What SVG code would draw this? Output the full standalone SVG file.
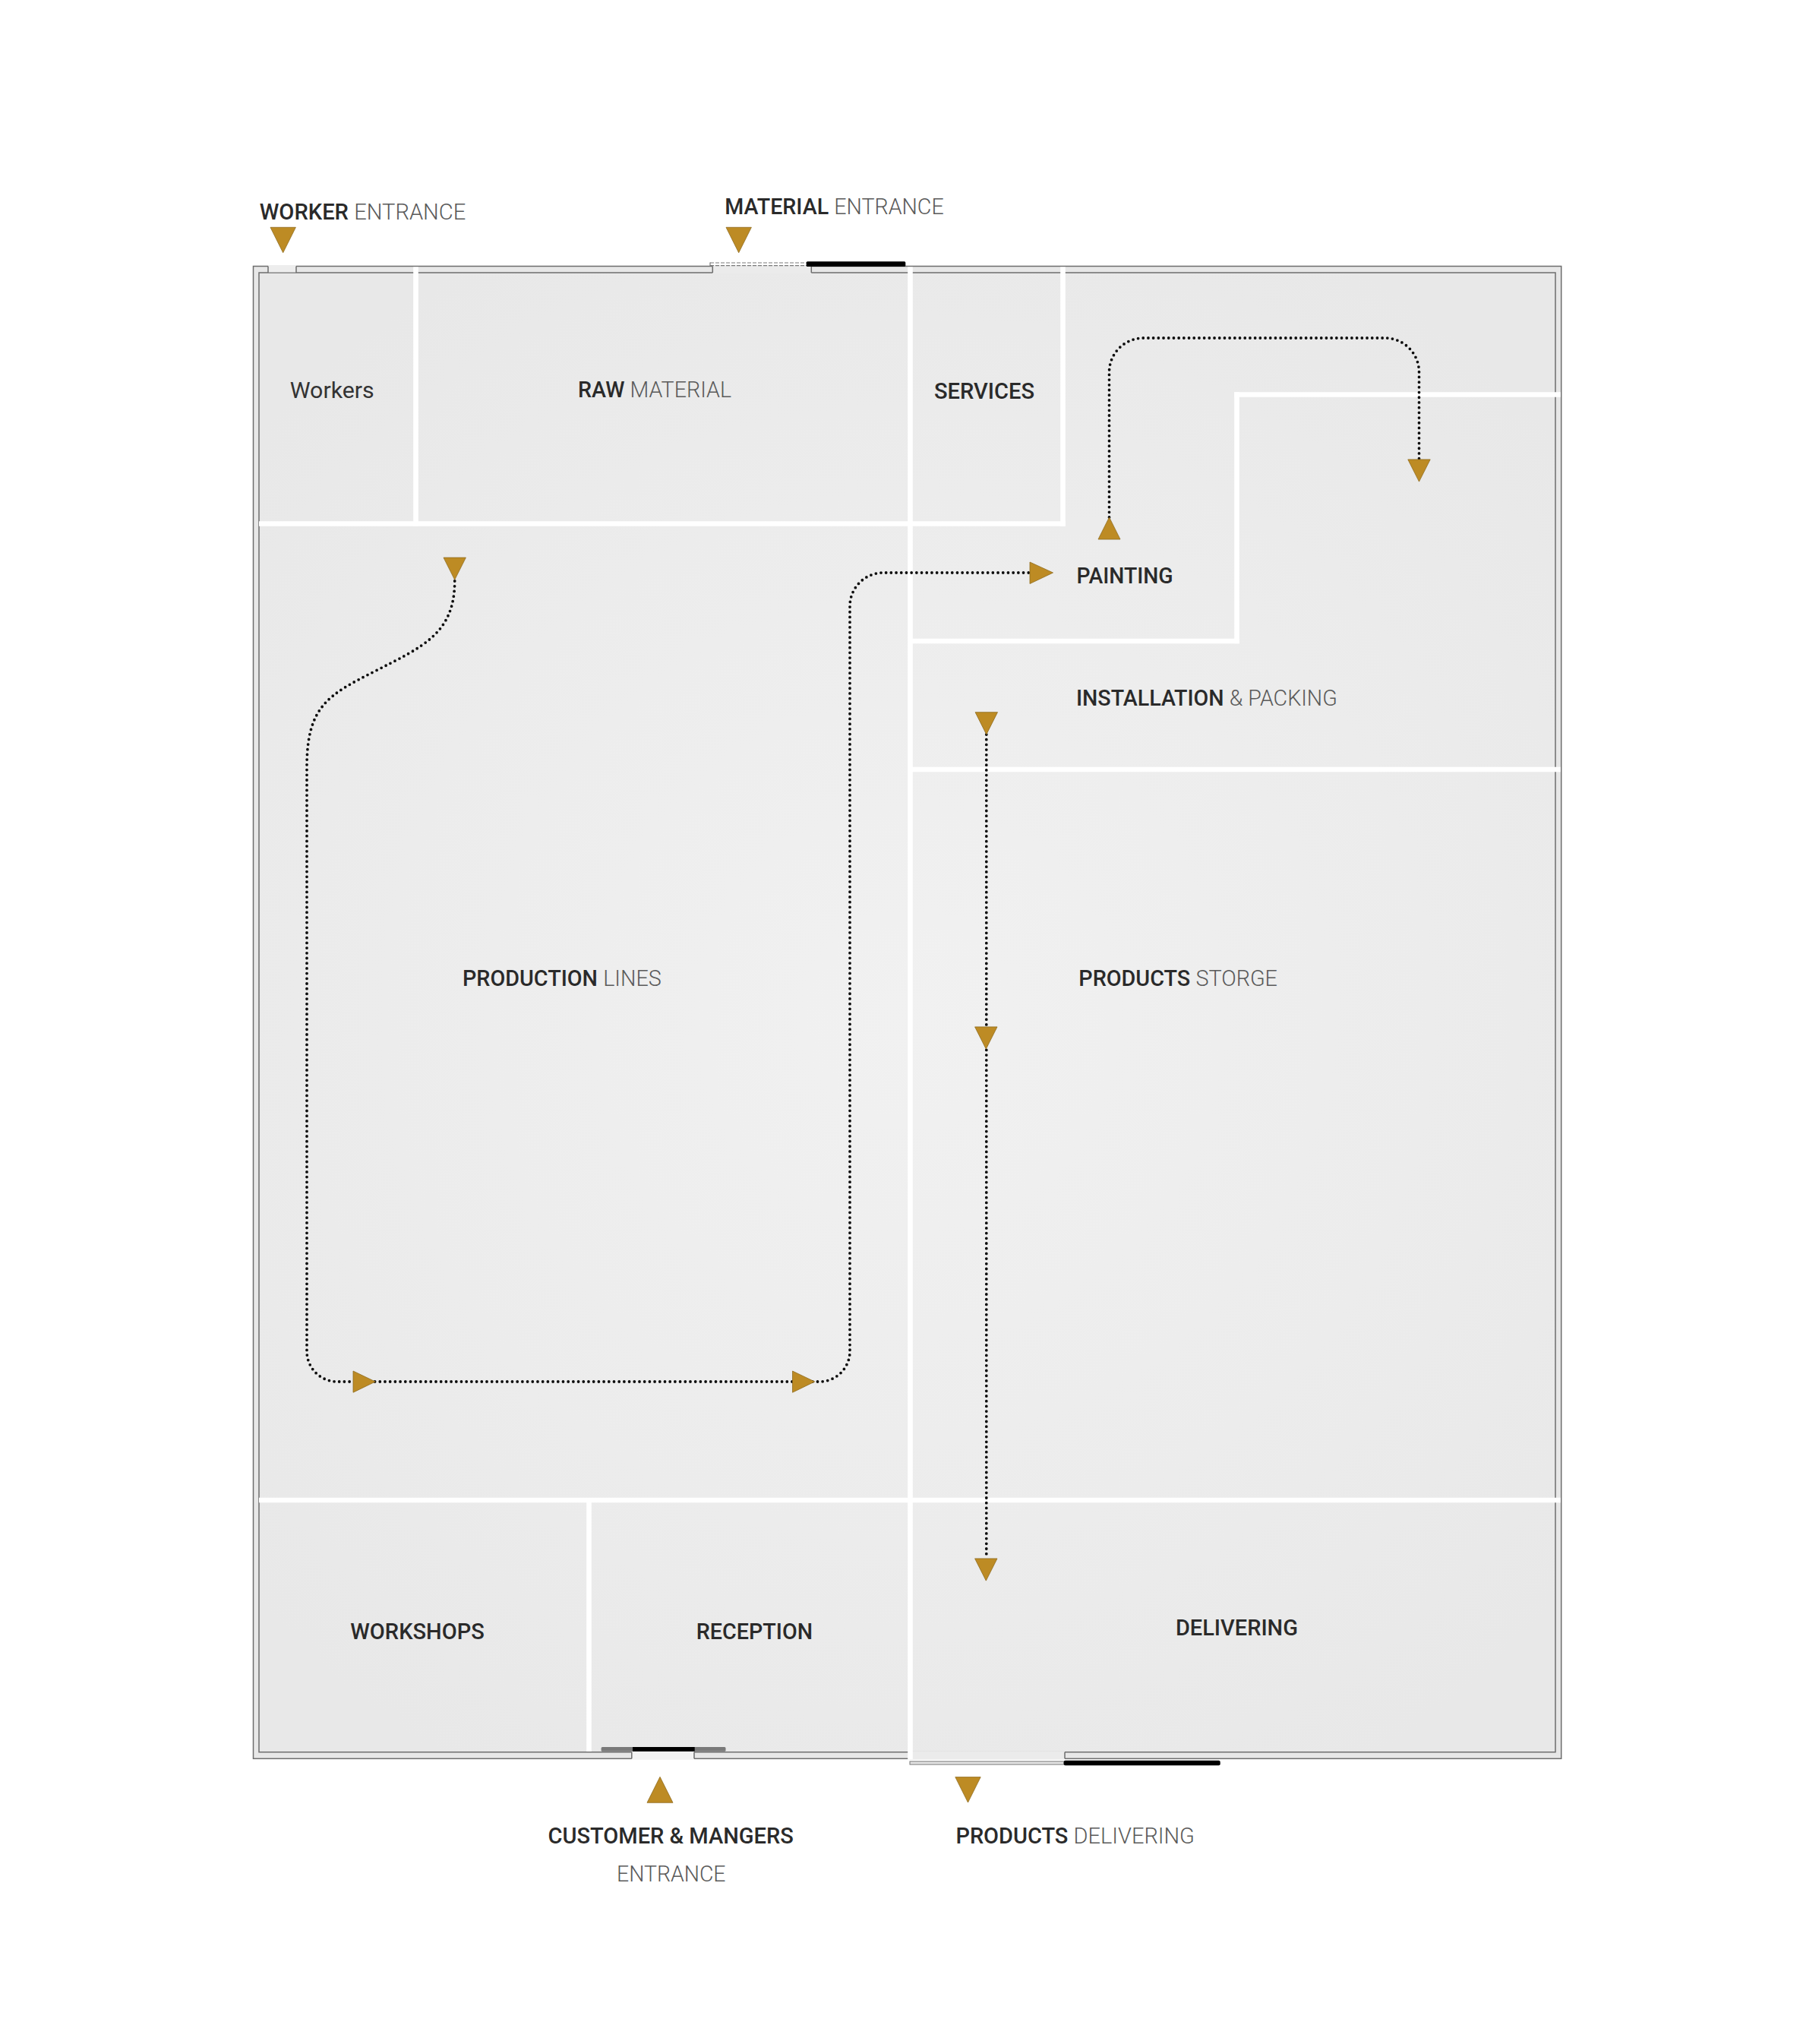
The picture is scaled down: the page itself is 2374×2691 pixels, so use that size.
<svg xmlns="http://www.w3.org/2000/svg" width="2374" height="2691" viewBox="0 0 2374 2691">
<defs>
  <radialGradient id="floorGrad" cx="1195" cy="1340" r="1150" gradientUnits="userSpaceOnUse">
    <stop offset="0" stop-color="#f1f1f1"/>
    <stop offset="0.6" stop-color="#ececec"/>
    <stop offset="1" stop-color="#e8e8e8"/>
  </radialGradient>
  <polygon id="arrowDown" points="-14.7,-14.6 14.7,-14.6 0,14.6"/>
  <polygon id="arrowDownBig" points="-16.7,-16.7 16.7,-16.7 0,16.7"/>
</defs>
<style>
  text { font-family: Roboto, "Liberation Sans", "DejaVu Sans", sans-serif; font-size: 30px; }
  .b { font-weight: 500; fill: #2a2a2a; }
  .l { font-weight: 300; fill: #5a5a5a; }
  .r { font-weight: 400; fill: #333333; }
  .edge { stroke: #6d6d6d; stroke-width: 1.5; }
  .wall-line { fill: none; stroke: #6d6d6d; stroke-width: 1.5; }
  .white { stroke: #ffffff; stroke-width: 6.6; fill: none; stroke-linecap: butt; }
  .dots { fill: none; stroke: #0d0d0d; stroke-width: 3.8; stroke-dasharray: 0 6.7; stroke-linecap: round; }
  .arrow { fill: #bd8b24; stroke: #8f6c1f; stroke-width: 0.8; stroke-linejoin: miter; }
</style>

<rect x="0" y="0" width="2374" height="2691" fill="#ffffff"/>

<g id="walls">
  <!-- wall band and floor -->
  <rect x="333.5" y="350.5" width="1722.2" height="1964.8" fill="#e7e7e7" class="edge"/>
  <rect x="341" y="359" width="1707" height="1947.7" fill="url(#floorGrad)" class="edge"/>
  <!-- worker door gap -->
  <rect x="353" y="349" width="37" height="9.4" fill="#ededed"/>
  <path class="wall-line" d="M353,350.5 V359 M390,350.5 V359"/>
  <!-- material door gap -->
  <rect x="938.3" y="349" width="130" height="11" fill="#ebebeb"/>
  <path class="wall-line" d="M938.3,350.5 V359 M1068.3,350.5 V359"/>
  <path d="M935,346 H1062 M935,349.6 H1062" fill="none" stroke="#7a7a7a" stroke-width="1.2" stroke-dasharray="5 2"/>
  <path d="M935,345.5 V350.5" fill="none" stroke="#7a7a7a" stroke-width="1.2"/>
  <rect x="1061.7" y="344.3" width="130.6" height="6.6" rx="1.5" fill="#000000"/>
  <!-- customer door gap -->
  <rect x="831.8" y="2306" width="82.2" height="10.5" fill="#f3f3f3"/>
  <path class="wall-line" d="M831.8,2306.7 V2315.3 M914,2306.7 V2315.3"/>
  <rect x="791.6" y="2300" width="163.9" height="5.7" rx="1.5" fill="#7a7a7a"/>
  <rect x="833" y="2300" width="81.7" height="5.7" fill="#000000"/>
  <!-- products delivering opening -->
  <rect x="1198" y="2306" width="204" height="10.5" fill="#ebebeb"/>
  <path class="wall-line" d="M1198,2306.7 V2315.3 M1402,2306.7 V2315.3"/>
  <rect x="1198" y="2319" width="203" height="4" fill="#e4e4e4" stroke="#777777" stroke-width="1"/>
  <rect x="1400.7" y="2317.7" width="206" height="6.6" rx="2" fill="#000000"/>
  <!-- interior partitions -->
  <path class="white" d="M547.5,351.5 V692.8"/>
  <path class="white" d="M341,689.5 H1402.8"/>
  <path class="white" d="M1198.5,351.5 V2316"/>
  <path class="white" d="M1399.5,351.5 V692.8"/>
  <path class="white" d="M1625.2,519.5 H2055"/>
  <path class="white" d="M1628.5,516.2 V847.3"/>
  <path class="white" d="M1198.5,844 H1631.8"/>
  <path class="white" d="M1198.5,1013 H2055"/>
  <path class="white" d="M341,1975 H2055"/>
  <path class="white" d="M775.5,1975 V2306"/>
</g>

<g id="connectors">
  <path id="flow-production" class="dots" d="M598.7,765 C598.7,835 555,852 493,884 C432,915 404,930 404,1010 L404,1779 A40,40 0 0 0 444,1819 L1079,1819 A40,40 0 0 0 1119,1779 L1119,798 A44,44 0 0 1 1163,754 L1356,754"/>
  <path id="flow-painting" class="dots" d="M1460.5,681 L1460.5,490 A45,45 0 0 1 1505.5,445 L1823.5,445 A45,45 0 0 1 1868.5,490 L1868.5,605"/>
  <path id="flow-storage" class="dots" d="M1298.8,967 L1298.8,2052"/>
  <!-- flow arrowheads -->
  <use href="#arrowDown" class="arrow" x="598.7" y="748.7"/>
  <polygon class="arrow" points="465,1805 465,1833.2 494.2,1819"/>
  <polygon class="arrow" points="1043.5,1805 1043.5,1833.2 1072.7,1819"/>
  <polygon class="arrow" points="1356,740 1356,768.5 1386.5,754"/>
  <polygon class="arrow" points="1446,710 1475,710 1460.5,681"/>
  <use href="#arrowDown" class="arrow" x="1868.5" y="619.5"/>
  <use href="#arrowDown" class="arrow" x="1298.8" y="952.3"/>
  <use href="#arrowDown" class="arrow" x="1298.3" y="1366.5"/>
  <use href="#arrowDown" class="arrow" x="1298.3" y="2066.5"/>
</g>

<g id="worker-entrance">
  <use href="#arrowDownBig" class="arrow" x="372.7" y="316"/>
  <text x="341.7" y="289.3" textLength="271.6" lengthAdjust="spacingAndGlyphs"><tspan class="b">WORKER</tspan> <tspan class="l">ENTRANCE</tspan></text>
</g>
<g id="material-entrance">
  <use href="#arrowDownBig" class="arrow" x="972.7" y="316"/>
  <text x="954.3" y="281.7" textLength="288.4" lengthAdjust="spacingAndGlyphs"><tspan class="b">MATERIAL</tspan> <tspan class="l">ENTRANCE</tspan></text>
</g>
<g id="customer-entrance">
  <polygon class="arrow" points="852,2373.3 886,2373.3 869,2339.3"/>
  <text x="721.5" y="2426.7" textLength="323.3" lengthAdjust="spacingAndGlyphs" class="b">CUSTOMER &amp; MANGERS</text>
  <text x="812" y="2477.3" textLength="143.5" lengthAdjust="spacingAndGlyphs" class="l">ENTRANCE</text>
</g>
<g id="products-delivering-exit">
  <use href="#arrowDownBig" class="arrow" x="1274.5" y="2356.3"/>
  <text x="1258.4" y="2427" textLength="314.5" lengthAdjust="spacingAndGlyphs"><tspan class="b">PRODUCTS</tspan> <tspan class="l">DELIVERING</tspan></text>
</g>

<g id="room-workers">
  <text x="381.7" y="524" textLength="111" lengthAdjust="spacingAndGlyphs" class="r">Workers</text>
</g>
<g id="room-raw-material">
  <text x="761" y="523.3" textLength="202" lengthAdjust="spacingAndGlyphs"><tspan class="b">RAW</tspan> <tspan class="l">MATERIAL</tspan></text>
</g>
<g id="room-services">
  <text x="1230" y="525" textLength="132" lengthAdjust="spacingAndGlyphs" class="b">SERVICES</text>
</g>
<g id="room-painting">
  <text x="1417.5" y="768.3" textLength="127" lengthAdjust="spacingAndGlyphs" class="b">PAINTING</text>
</g>
<g id="room-installation-packing">
  <text x="1417" y="928.5" textLength="343.7" lengthAdjust="spacingAndGlyphs"><tspan class="b">INSTALLATION</tspan> <tspan class="l">&amp; PACKING</tspan></text>
</g>
<g id="room-production-lines">
  <text x="609" y="1298.3" textLength="261.8" lengthAdjust="spacingAndGlyphs"><tspan class="b">PRODUCTION</tspan> <tspan class="l">LINES</tspan></text>
</g>
<g id="room-products-storage">
  <text x="1420.3" y="1298" textLength="261.7" lengthAdjust="spacingAndGlyphs"><tspan class="b">PRODUCTS</tspan> <tspan class="l">STORGE</tspan></text>
</g>
<g id="room-workshops">
  <text x="461.3" y="2158.3" textLength="176.5" lengthAdjust="spacingAndGlyphs" class="b">WORKSHOPS</text>
</g>
<g id="room-reception">
  <text x="916.8" y="2158.3" textLength="153.2" lengthAdjust="spacingAndGlyphs" class="b">RECEPTION</text>
</g>
<g id="room-delivering">
  <text x="1547.9" y="2153.3" textLength="161" lengthAdjust="spacingAndGlyphs" class="b">DELIVERING</text>
</g>
</svg>
